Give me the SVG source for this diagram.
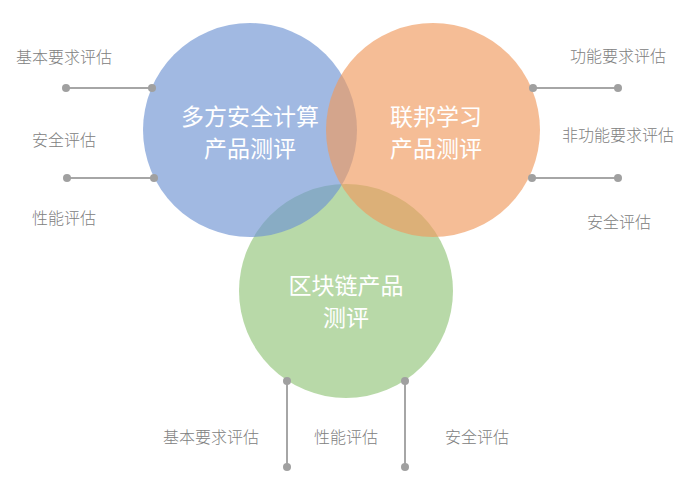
<svg xmlns="http://www.w3.org/2000/svg" width="700" height="500" viewBox="0 0 700 500">
<style>
.c{fill-opacity:0.65}
.t{font-family:"Noto Sans CJK SC","Noto Sans",sans-serif;font-size:23px;fill:#ffffff;text-anchor:middle}
.l{font-family:"Noto Sans CJK SC","Noto Sans",sans-serif;font-size:16px;font-weight:300;fill:#808080;text-anchor:middle}
.ln{stroke:#a6a6a6;stroke-width:2;fill:none}
.d{fill:#a0a0a0}
</style>
<rect width="700" height="500" fill="#ffffff"/>
<g id="node-bc">
<circle class="c" cx="346" cy="291" r="107" fill="#92c47a"/>
</g>
<g id="node-mpc">
<circle class="c" cx="250" cy="130" r="107" fill="#6f93d3"/>
</g>
<g id="node-fl">
<circle class="c" cx="433" cy="130" r="107" fill="#f09a5e"/>
</g>
<g id="node-texts">
<text class="t" x="250" y="125">多方安全计算</text>
<text class="t" x="250" y="157">产品测评</text>
<text class="t" x="436" y="125">联邦学习</text>
<text class="t" x="436" y="157">产品测评</text>
<text class="t" x="346" y="294">区块链产品</text>
<text class="t" x="346" y="326">测评</text>
</g>
<g id="connectors">
<line class="ln" x1="66" y1="88" x2="152" y2="88"/>
<circle class="d" cx="66" cy="88" r="4"/><circle class="d" cx="152" cy="88" r="4"/>
<line class="ln" x1="67" y1="178" x2="154" y2="178"/>
<circle class="d" cx="67" cy="178" r="4"/><circle class="d" cx="154" cy="178" r="4"/>
<line class="ln" x1="533" y1="88" x2="618" y2="88"/>
<circle class="d" cx="533" cy="88" r="4"/><circle class="d" cx="618" cy="88" r="4"/>
<line class="ln" x1="532" y1="178" x2="618" y2="178"/>
<circle class="d" cx="532" cy="178" r="4"/><circle class="d" cx="618" cy="178" r="4"/>
<line class="ln" x1="287" y1="381" x2="287" y2="467"/>
<circle class="d" cx="287" cy="381" r="4"/><circle class="d" cx="287" cy="467" r="4"/>
<line class="ln" x1="405" y1="381" x2="405" y2="467"/>
<circle class="d" cx="405" cy="381" r="4"/><circle class="d" cx="405" cy="467" r="4"/>
</g>
<g id="labels">
<text class="l" x="64" y="63">基本要求评估</text>
<text class="l" x="64" y="146">安全评估</text>
<text class="l" x="64" y="224">性能评估</text>
<text class="l" x="618" y="62">功能要求评估</text>
<text class="l" x="618" y="141">非功能要求评估</text>
<text class="l" x="619" y="228">安全评估</text>
<text class="l" x="211" y="443">基本要求评估</text>
<text class="l" x="346" y="443">性能评估</text>
<text class="l" x="477" y="443">安全评估</text>
</g>
</svg>
